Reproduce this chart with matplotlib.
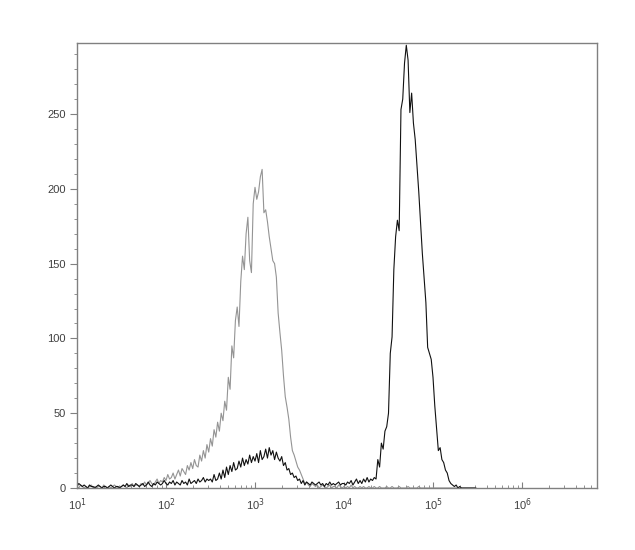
import numpy as np
import matplotlib
matplotlib.use("Agg")
import matplotlib.pyplot as plt
from matplotlib.ticker import FixedLocator, NullFormatter

# Histogram bins: log10 exponent of first bin and bin width (decades)
log_bin_start = 1.0
log_bin_width = 0.02

# Gray (control) histogram counts, 25 bins per row (0.5 decade per row)
gray_counts = [
    1, 0, 2, 1, 0, 1, 0, 1, 2, 0, 1, 0, 1, 1, 0, 2, 1, 0, 1, 0, 1, 2, 1, 0, 1,
    1, 2, 1, 0, 2, 1, 3, 1, 2, 2, 1, 3, 2, 4, 2, 3, 5, 3, 2, 4, 6, 3, 5, 4, 7,
    5, 9, 6, 7, 10, 6, 9, 12, 8, 13, 11, 9, 15, 12, 17, 13, 19, 15, 14, 22, 18, 25, 20, 29, 24,
    33, 28, 39, 34, 44, 38, 50, 45, 58, 52, 74, 66, 95, 87, 112, 121, 108, 138, 155, 146, 170, 181, 152, 144, 190,
    201, 193, 198, 208, 213, 184, 186, 178, 168, 160, 152, 150, 141, 117, 104, 92, 75, 61, 54, 46, 34, 25, 22, 18, 14,
    12, 9, 6, 3, 4, 2, 1, 3, 2, 1, 2, 0, 1, 2, 1, 0, 1, 2, 0, 1, 1, 0, 2, 1, 0,
    1, 0, 1, 0, 2, 0, 1, 0, 0, 1, 0, 1, 0, 0, 1, 0, 0, 1, 0, 0, 1, 0, 0, 0, 1,
    0, 0, 1, 0, 0, 0, 1, 0, 0, 0, 0, 1, 0, 0, 0, 0, 0, 1, 0, 0, 0, 0, 0, 0, 0,
    0, 0, 0, 0, 0, 0, 0, 0, 0, 0, 0, 0, 0, 0, 0, 0, 0, 0, 0, 0, 0, 0, 0, 0, 0,
]

# Black (stained) histogram counts
black_counts = [
    1, 3, 2, 1, 2, 1, 0, 2, 1, 1, 0, 1, 2, 1, 0, 1, 1, 0, 1, 2, 1, 0, 1, 1, 0,
    1, 2, 1, 3, 1, 2, 2, 1, 3, 2, 1, 2, 3, 1, 2, 4, 2, 1, 3, 2, 4, 3, 2, 3, 5,
    3, 2, 4, 3, 5, 2, 4, 3, 2, 5, 3, 4, 2, 6, 3, 4, 5, 3, 6, 4, 5, 7, 4, 6, 5,
    6, 4, 9, 5, 6, 10, 6, 12, 7, 14, 9, 15, 11, 17, 12, 13, 18, 14, 20, 15, 19, 16, 22, 17, 21,
    18, 23, 17, 25, 19, 21, 26, 20, 27, 22, 25, 19, 24, 20, 18, 21, 15, 17, 12, 13, 9, 10, 7, 8, 5,
    6, 3, 5, 2, 4, 3, 2, 4, 3, 2, 3, 4, 2, 3, 1, 3, 2, 4, 2, 3, 2, 3, 4, 2, 3,
    3, 2, 4, 3, 5, 2, 4, 6, 3, 5, 3, 6, 4, 7, 4, 6, 5, 7, 6, 19, 14, 30, 26, 38, 41,
    50, 90, 101, 146, 168, 179, 172, 253, 260, 284, 296, 286, 251, 264, 244, 233, 215, 198, 177, 157, 140, 124, 94, 90, 86,
    74, 55, 40, 25, 27, 19, 17, 12, 10, 5, 3, 2, 1, 2, 0, 1, 0, 0, 0, 0, 0, 0, 0, 0, 0,
]

x_decades = [1, 2, 3, 4, 5, 6]
x_tick_labels = [r"10$^{%d}$" % d for d in x_decades]
y_ticks = [0, 50, 100, 150, 200, 250]

n = len(gray_counts)
centers = 10 ** (log_bin_start + log_bin_width * np.arange(n))

plt.rcParams["font.family"] = ["Liberation Sans", "DejaVu Sans"]
fig = plt.figure(figsize=(6.35, 5.5), dpi=100)
ax = fig.add_axes([77 / 635, 62 / 550, 520 / 635, 445 / 550])

ax.plot(centers, gray_counts, color="#949494", lw=0.8)
ax.plot(centers, black_counts, color="#111111", lw=0.8)

ax.set_xscale("log")
ax.set_xlim(10, 10 ** (1 + 520 / 89.0))
ax.set_ylim(0, 297.5)

ax.set_xticks([10.0 ** d for d in x_decades])
ax.set_xticklabels(x_tick_labels)
minors = [m * 10.0 ** d for d in range(1, 7) for m in range(2, 10)]
ax.xaxis.set_minor_locator(FixedLocator(minors))
ax.xaxis.set_minor_formatter(NullFormatter())
ax.set_yticks(y_ticks)
ax.yaxis.set_minor_locator(FixedLocator(list(range(0, 300, 10))))

spine_c = "#808080"
for s in ax.spines.values():
    s.set_color(spine_c)
    s.set_linewidth(1.0)

ax.tick_params(axis="x", which="major", direction="in", length=4, color=spine_c,
               labelsize=8, labelcolor="#404040", pad=6)
ax.tick_params(axis="x", which="minor", direction="in", length=2, color=spine_c)
ax.tick_params(axis="y", which="major", direction="out", length=5, color=spine_c,
               labelsize=8, labelcolor="#404040", pad=3)
ax.tick_params(axis="y", which="minor", direction="out", length=2, color=spine_c)

fig.savefig("out.png", dpi=100, facecolor="white")
